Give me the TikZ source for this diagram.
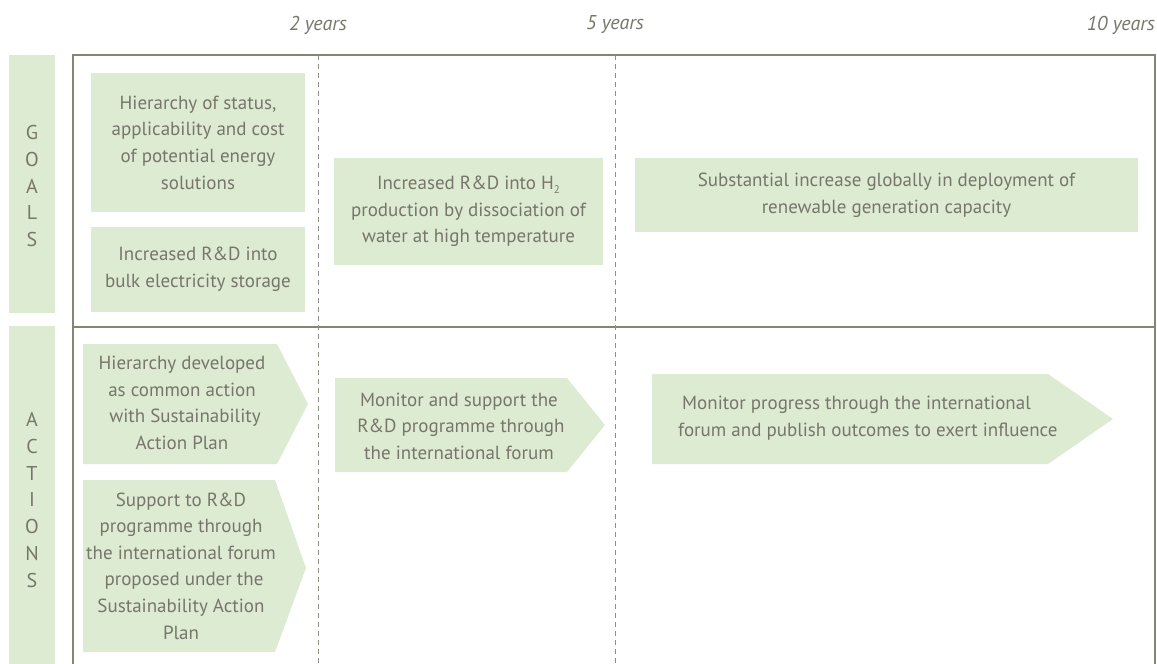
\documentclass[tikz,border=0pt]{standalone}
\usepackage{fontspec}
\setmainfont{PT Sans}
\definecolor{boxfill}{HTML}{DDEBD3}
\definecolor{txt}{HTML}{76766A}
\definecolor{framec}{HTML}{858573}
\definecolor{dashc}{HTML}{8E8E84}
\begin{document}
\begin{tikzpicture}[x=1pt,y=-1pt,
  every node/.style={text=txt, inner sep=0pt, align=center},
  bodytext/.style={font=\fontsize{19}{26.6}\selectfont},
  gbox/.style={fill=boxfill, bodytext},
  sidetext/.style={font=\fontsize{20}{26.8}\selectfont},
  yearlabel/.style={font=\fontsize{20}{22}\selectfont\itshape},
  framel/.style={draw=framec, line width=1.2pt},
  dashl/.style={draw=dashc, line width=1pt, dash pattern=on 5pt off 4pt},
  arrowfill/.style={fill=boxfill}]
\useasboundingbox (0,0) rectangle (1157,664);

% side bars
\fill[boxfill] (9,55) rectangle (55,313);
\fill[boxfill] (9,326) rectangle (55,664);
\node[sidetext] (goals) at (32,186) {G\\O\\A\\L\\S};
\node[sidetext] (actions) at (32,500) {A\\C\\T\\I\\O\\N\\S};

% frame
\coordinate (fbl) at (73,664);
\coordinate (ftl) at (73,55);
\coordinate (ftr) at (1155,55);
\coordinate (fbr) at (1155,664);
\coordinate (ml) at (73,327);
\coordinate (mr) at (1155,327);
\draw[framel] (fbl) -- (ftl) -- (ftr) -- (fbr);
\draw[framel] (ml) -- (mr);

% dashed time lines
\coordinate (d2t) at (318,55);
\coordinate (d2b) at (318,664);
\coordinate (d5t) at (615,55);
\coordinate (d5b) at (615,664);
\draw[dashl] (d2t) -- (d2b);
\draw[dashl] (d5t) -- (d5b);

% year labels
\node[yearlabel] (y2) at (318,25) {2 years};
\node[yearlabel] (y5) at (615,25) {5 years};
\node[yearlabel, anchor=east] (y10) at (1155,25) {10 years};

% goals
\node[gbox, minimum width=214pt, minimum height=139pt] (g1) at (198,142.5)
  {Hierarchy of status,\\applicability and cost\\of potential energy\\solutions};
\node[gbox, minimum width=214pt, minimum height=85pt] (g2) at (198,269.5)
  {Increased R\&D into\\bulk electricity storage};
\node[gbox, minimum width=269pt, minimum height=107pt] (g3) at (468.5,211.5)
  {Increased R\&D into H\raisebox{-0.4ex}{\fontsize{11}{11}\selectfont 2}\\production by dissociation of\\water at high temperature};
\node[gbox, minimum width=503pt, minimum height=74pt] (g4) at (886.5,195)
  {Substantial increase globally in deployment of\\renewable generation capacity};

% actions
\fill[arrowfill] (83,344) -- (277,344) -- (308,404) -- (277,464) -- (83,464) -- cycle;
\node[bodytext] (a1) at (182,403)
  {Hierarchy developed\\as common action\\\hspace*{6pt}with Sustainability\\Action Plan};
\fill[arrowfill] (83,480) -- (275,480) -- (306,568) -- (275,652) -- (83,652) -- cycle;
\node[bodytext] (a2) at (181,566)
  {Support to R\&D\\programme through\\the international forum\\\hspace*{6pt}proposed under the\\Sustainability Action\\Plan};
\fill[arrowfill] (335,378) -- (567,378) -- (605,425) -- (567,472) -- (335,472) -- cycle;
\node[bodytext] (a3) at (459,426)
  {Monitor and support the\\\hspace*{4pt}R\&D programme through\\the international forum};
\fill[arrowfill] (652,374) -- (1048,374) -- (1113,419) -- (1048,464) -- (652,464) -- cycle;
\node[bodytext, align=left, anchor=west] (a4) at (678,418)
  {\hspace*{4pt}Monitor progress through the international\\forum and publish outcomes to exert influence};
\end{tikzpicture}
\end{document}
